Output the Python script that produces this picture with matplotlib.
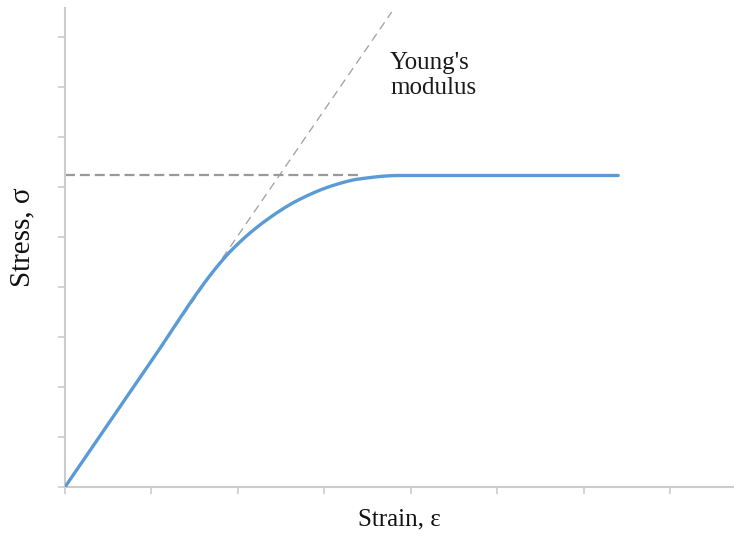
import matplotlib
matplotlib.use("Agg")
import matplotlib.pyplot as plt
import numpy as np

# Stress-strain curve (data units: one tick = 1)
strain = [0.0, 1.0, 1.70, 1.94, 2.30, 2.70, 3.10, 3.40, 3.86, 6.40]
stress = [0.0, 2.52, 4.28, 4.76, 5.30, 5.74, 6.03, 6.16, 6.23, 6.23]

# Young's modulus line
young_x = [0.0, 3.78]
young_y = [0.0, 9.5]

# Yield (plateau) dashed line
yield_x = [0.0, 3.4]
yield_y = [6.25, 6.25]

xticks = list(range(0, 8))
yticks = list(range(0, 10))

fig = plt.figure(figsize=(7.34, 5.37), dpi=100)
ax = fig.add_axes([65/734, 50/537, 1 - 65/734, (487-8)/537])


def smooth(xp, yp, xn):
    """Monotone cubic (Fritsch-Carlson) interpolation for a smooth curve."""
    xp = np.asarray(xp, float); yp = np.asarray(yp, float)
    h = np.diff(xp); d = np.diff(yp) / h
    m = np.zeros_like(yp)
    m[0] = d[0]; m[-1] = d[-1]
    for i in range(1, len(xp) - 1):
        if d[i-1] * d[i] <= 0:
            m[i] = 0
        else:
            w1 = 2*h[i] + h[i-1]; w2 = h[i] + 2*h[i-1]
            m[i] = (w1 + w2) / (w1/d[i-1] + w2/d[i])
    out = np.empty_like(xn)
    for j, x in enumerate(xn):
        i = int(np.clip(np.searchsorted(xp, x) - 1, 0, len(xp) - 2))
        t = (x - xp[i]) / h[i]
        h00 = 2*t**3 - 3*t**2 + 1; h10 = t**3 - 2*t**2 + t
        h01 = -2*t**3 + 3*t**2; h11 = t**3 - t**2
        out[j] = h00*yp[i] + h10*h[i]*m[i] + h01*yp[i+1] + h11*h[i]*m[i+1]
    return out


xs = np.linspace(0, strain[-1], 500)

ax.plot(young_x, young_y, color="#a6a6a6", lw=1.0, ls=(0, (6, 4)), zorder=2)
ax.plot(yield_x, yield_y, color="#999999", lw=1.6, ls=(0, (4.5, 2.2)), zorder=2)
ax.plot(xs, smooth(strain, stress, xs), color="#5b9bd5", lw=2.4,
        solid_capstyle="round", zorder=3)

ax.set_xlim(0, 7.74)
ax.set_ylim(0, 9.58)
ax.set_xticks(xticks)
ax.set_yticks(yticks)
ax.set_xticklabels([])
ax.set_yticklabels([])
for s in ["top", "right"]:
    ax.spines[s].set_visible(False)
for s in ["left", "bottom"]:
    ax.spines[s].set_color("#cccccc")
    ax.spines[s].set_linewidth(1.5)
ax.tick_params(axis="both", direction="out", length=5, width=1.2, color="#cccccc")

ax.set_xlabel("Strain, ε", family="Liberation Serif", fontsize=18,
              va="center", ha="center", color="#111111")
ax.xaxis.set_label_coords(334/669, -(519-487)/479)
ax.set_ylabel("Stress, σ", family="Liberation Serif", fontsize=21,
              va="center", ha="center", color="#111111")
ax.yaxis.set_label_coords(-(65-22)/669, (487-237)/479)

ax.text(3.76, 8.7, "Young's\nmodulus", family="Liberation Serif", fontsize=18,
        ha="left", va="top", linespacing=1.2, color="#1a1a1a")

fig.savefig("out.png", dpi=100)
